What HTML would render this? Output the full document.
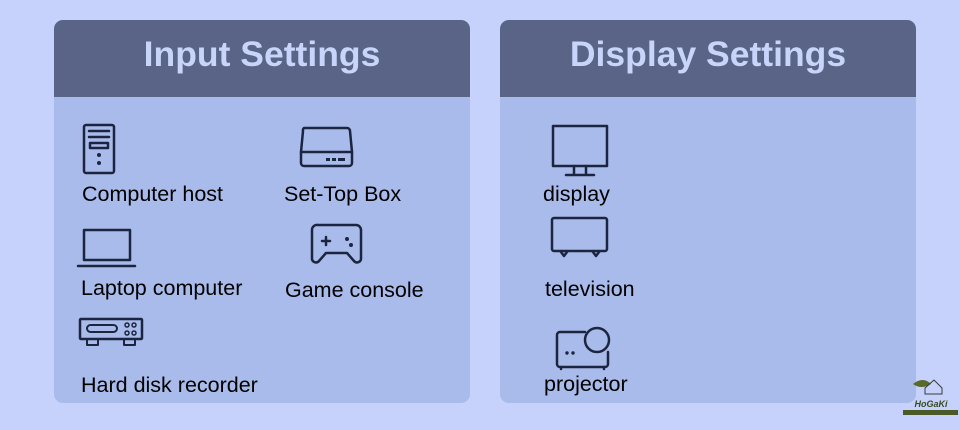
<!DOCTYPE html>
<html><head><meta charset="utf-8"><style>
html,body{margin:0;padding:0;width:960px;height:430px;overflow:hidden;background:#c6d2fb;}
svg{display:block}
text{font-family:"Liberation Sans",sans-serif}
</style></head><body>
<svg width="960" height="430" viewBox="0 0 960 430" xmlns="http://www.w3.org/2000/svg">
<rect width="960" height="430" fill="#c6d2fb"/>
<!-- left panel -->
<rect x="54" y="20" width="416" height="383" rx="9" fill="#a9bbea"/>
<path d="M54 97 V29 a9 9 0 0 1 9 -9 H461 a9 9 0 0 1 9 9 V97 Z" fill="#596487"/>
<text x="262" y="66" text-anchor="middle" font-size="35.5" font-weight="bold" fill="#c8d4fa">Input Settings</text>
<!-- right panel -->
<rect x="500" y="20" width="416" height="383" rx="9" fill="#a9bbea"/>
<path d="M500 97 V29 a9 9 0 0 1 9 -9 H907 a9 9 0 0 1 9 9 V97 Z" fill="#596487"/>
<text x="708" y="66" text-anchor="middle" font-size="35.5" font-weight="bold" fill="#c8d4fa">Display Settings</text>

<g fill="none" stroke="#1c2540" stroke-width="2.5" stroke-linejoin="round" stroke-linecap="round">
<rect x="84" y="125" width="30" height="48" rx="2"/>
<line x1="89" y1="131" x2="109" y2="131"/><line x1="89" y1="137" x2="109" y2="137"/>
<rect x="90" y="143" width="18" height="5"/>
<path d="M304 128 H347 a3 3 0 0 1 3 3 L352 152 V163 a3 3 0 0 1 -3 3 H304 a3 3 0 0 1 -3 -3 V152 L303 131 a3 3 0 0 1 1 -3 Z"/>
<line x1="301" y1="152" x2="352" y2="152"/>
<rect x="84" y="230" width="46" height="30"/>
<line x1="78" y1="266" x2="135" y2="266"/>
<path d="M318 225 H356 a5 5 0 0 1 5 5 V258 a4 4 0 0 1 -7 3 L347 253 H326 L319 261 a4 4 0 0 1 -7 -3 V230 a5 5 0 0 1 6 -5 Z"/>
<line x1="322" y1="241" x2="330" y2="241"/><line x1="326" y1="237" x2="326" y2="245"/>
<rect x="80" y="319" width="62" height="20" rx="1"/>
<rect x="87" y="325" width="30" height="7" rx="3.5" stroke-width="2"/>
<rect x="87" y="339" width="11" height="6" stroke-width="2"/>
<rect x="124" y="339" width="11" height="6" stroke-width="2"/>
<circle cx="127" cy="325" r="2" stroke-width="1.5"/><circle cx="134" cy="325" r="2" stroke-width="1.5"/>
<circle cx="127" cy="333" r="2" stroke-width="1.5"/><circle cx="134" cy="333" r="2" stroke-width="1.5"/>
<rect x="553" y="126" width="54" height="40"/>
<path d="M574 166 V174 M586 166 V174 M566 175 H594"/>
<rect x="552" y="218" width="55" height="33" rx="2"/>
<path d="M561 252 L564 256 M567 252 L564 256 M593 252 L596 256 M599 252 L596 256"/>
<path d="M585 332 H560 a3 3 0 0 0 -3 3 V364 a3 3 0 0 0 3 3 H605 a3 3 0 0 0 3 -3 V352"/>
<circle cx="597" cy="340" r="12"/>
<path d="M561 367 V369 M604 367 V369"/>
</g>
<g fill="#1c2540">
<circle cx="99" cy="155" r="2"/><circle cx="99" cy="163" r="2"/>
<rect x="326" y="158" width="4" height="3"/><rect x="332" y="158" width="4" height="3"/><rect x="338" y="158" width="7" height="3"/>
<circle cx="347" cy="239" r="2"/><circle cx="351" cy="245" r="2"/>
<circle cx="567" cy="353" r="1.7"/><circle cx="573" cy="353" r="1.7"/>
</g>

<g font-size="21.5" fill="#000">
<text x="82" y="201">Computer host</text>
<text x="284" y="201">Set-Top Box</text>
<text x="81" y="295">Laptop computer</text>
<text x="285" y="297">Game console</text>
<text x="81" y="392">Hard disk recorder</text>
<text x="543" y="201">display</text>
<text x="545" y="296">television</text>
<text x="544" y="391">projector</text>
</g>
<path d="M913 384 q10 -8 18 0 q-10 6 -18 0 Z" fill="#5a6a2a"/>
<path d="M925 388 l9 -8 l8 8 v6 h-17 Z" fill="none" stroke="#3b3b3b" stroke-width="1"/>
<text x="931" y="407" text-anchor="middle" font-size="9" font-style="italic" font-weight="bold" fill="#3a4a1c" font-family="Liberation Serif,serif">HoGaKi</text>
<rect x="903" y="410" width="55" height="5" fill="#4a5a26"/>
</svg>
</body></html>
